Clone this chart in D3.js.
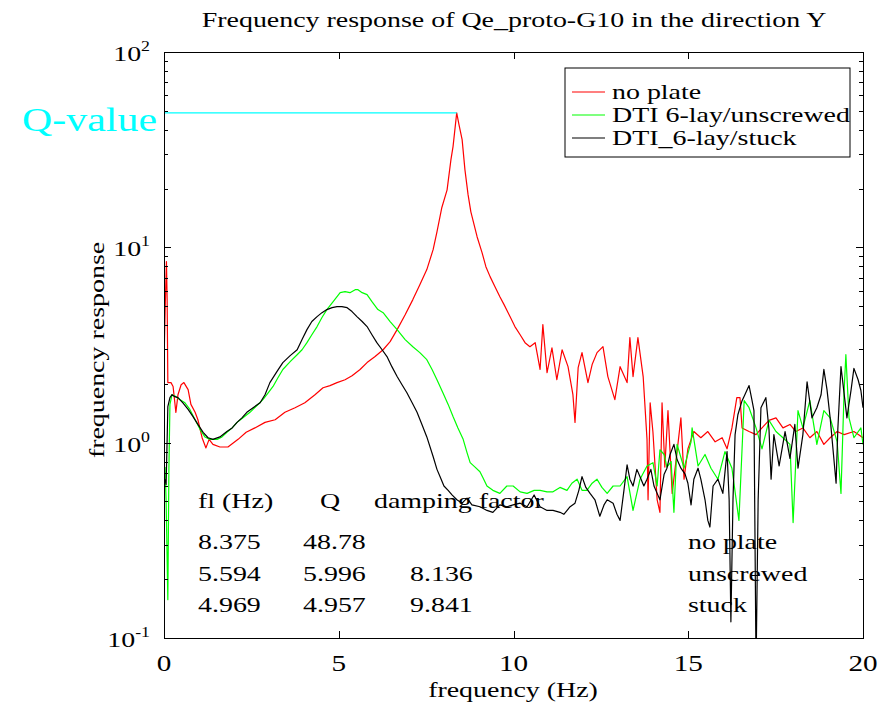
<!DOCTYPE html>
<html>
<head>
    <title>Frequency response</title>
    <script src="https://d3js.org/d3.v7.min.js"></script>
    <style>
        body { margin: 0; background: #fff; }
        text { font-family: "Liberation Serif", "Times New Roman", serif; }
        .axis path, .axis line { stroke: #000; shape-rendering: crispEdges; }
        .curve { fill: none; stroke-width: 1.2px; stroke-linejoin: round; }
    </style>
</head>
<body>
<script>
// [frequency (Hz), response]
var noPlate = [
    [0.01,3.10],[0.04,5.4],[0.07,8.45],[0.09,5.4],[0.11,2.03],[0.20,2.03],[0.26,1.94],[0.34,1.43],
    [0.40,1.76],[0.49,1.98],[0.57,2.03],[0.69,1.87],[0.77,1.57],[0.89,1.43],[0.97,1.31],[1.09,1.06],
    [1.20,0.94],[1.29,1.04],[1.40,0.98],[1.60,0.95],[1.83,0.95],[2.12,1.04],[2.35,1.13],[2.60,1.19],
    [2.89,1.27],[3.18,1.31],[3.46,1.43],[3.75,1.51],[4.03,1.60],[4.32,1.76],[4.55,1.91],[4.75,1.96],
    [4.95,2.03],[5.18,2.10],[5.38,2.20],[5.61,2.37],[5.81,2.57],[6.04,2.76],[6.27,2.99],[6.47,3.29],
    [6.67,3.79],[6.90,4.52],[7.12,5.40],[7.32,6.44],[7.52,7.69],[7.70,9.73],[7.81,12.0],[7.95,16.0],
    [8.10,19.7],[8.21,28.1],[8.27,32.8],[8.375,48.78],[8.44,42.5],[8.53,35.6],[8.61,25.0],[8.70,18.6],
    [8.78,15.2],[8.96,11.3],[9.10,9.40],[9.21,7.96],[9.33,7.08],[9.47,6.29],[9.61,5.59],[9.73,5.09],
    [9.90,4.42],[10.04,3.93],[10.19,3.57],[10.33,3.25],[10.47,3.10],[10.62,3.25],[10.76,2.37],[10.84,4.02],
    [10.96,2.28],[11.10,3.06],[11.24,2.10],[11.39,2.99],[11.56,2.45],[11.70,1.76],[11.76,1.27],[11.85,2.42],
    [11.96,2.89],[12.13,2.03],[12.25,2.51],[12.39,2.89],[12.56,3.10],[12.70,2.18],[12.90,1.66],[13.05,2.45],
    [13.25,2.03],[13.33,3.45],[13.42,2.18],[13.56,3.45],[13.71,2.18],[13.82,1.04],[13.85,0.51],[13.91,1.60],
    [13.99,1.13],[14.11,0.51],[14.19,0.44],[14.25,1.60],[14.33,0.75],[14.42,1.46],[14.54,0.55],[14.68,0.90],
    [14.79,1.34],[14.88,0.65],[14.99,0.93],[15.16,1.14],[15.36,1.06],[15.56,1.14],[15.77,1.01],[15.97,1.06],
    [16.11,0.93],[16.25,1.19],[16.39,1.70],[16.48,1.70],[16.54,1.19],[16.74,1.14],[16.94,1.10],[17.11,1.19],
    [17.31,1.30],[17.51,1.34],[17.71,1.19],[17.91,1.24],[18.08,1.14],[18.28,1.19],[18.48,1.06],[18.68,1.14],
    [18.88,0.98],[19.06,1.06],[19.26,1.14],[19.46,1.10],[19.74,1.14],[20.0,1.06]
];
var unscrewed = [
    [0.03,0.75],[0.06,0.51],[0.09,0.25],[0.11,0.157],[0.14,0.73],[0.17,1.57],[0.23,1.76],[0.34,1.72],
    [0.46,1.66],[0.60,1.60],[0.74,1.48],[0.89,1.31],[1.03,1.17],[1.17,1.07],[1.32,1.04],[1.52,1.04],
    [1.66,1.07],[1.80,1.13],[1.95,1.19],[2.09,1.27],[2.26,1.34],[2.46,1.43],[2.66,1.55],[2.83,1.66],
    [2.98,1.80],[3.12,1.94],[3.26,2.15],[3.40,2.37],[3.61,2.60],[3.81,2.82],[3.95,2.99],[4.09,3.25],
    [4.23,3.57],[4.38,3.93],[4.52,4.37],[4.66,4.80],[4.84,5.27],[5.04,5.86],[5.18,5.93],[5.32,5.86],
    [5.47,6.07],[5.55,6.07],[5.67,5.86],[5.81,5.73],[5.95,5.27],[6.12,4.80],[6.27,4.63],[6.47,4.17],
    [6.67,3.79],[6.90,3.37],[7.12,3.10],[7.32,2.89],[7.52,2.66],[7.67,2.37],[7.81,2.10],[7.98,1.80],
    [8.13,1.57],[8.27,1.36],[8.41,1.19],[8.56,1.04],[8.67,0.89],[8.76,0.79],[8.90,0.75],[9.04,0.71],
    [9.13,0.66],[9.24,0.60],[9.41,0.57],[9.61,0.55],[9.81,0.60],[9.99,0.60],[10.19,0.56],[10.39,0.55],
    [10.59,0.57],[10.76,0.57],[10.96,0.56],[11.13,0.56],[11.33,0.59],[11.53,0.57],[11.67,0.62],[11.82,0.65],
    [11.96,0.57],[12.10,0.57],[12.25,0.62],[12.39,0.65],[12.53,0.59],[12.68,0.55],[12.85,0.60],[13.05,0.60],
    [13.25,0.67],[13.42,0.45],[13.62,0.65],[13.82,0.76],[13.99,0.79],[14.11,0.60],[14.19,0.92],[14.31,0.87],
    [14.39,0.75],[14.51,0.80],[14.59,0.44],[14.68,0.98],[14.88,0.74],[15.08,1.01],[15.11,1.19],[15.28,0.76],
    [15.48,0.87],[15.65,0.74],[15.85,0.65],[16.05,0.90],[16.25,0.74],[16.45,0.40],[16.60,1.64],[16.74,1.51],
    [16.94,1.19],[17.11,0.93],[17.31,1.30],[17.51,1.14],[17.71,1.06],[17.91,0.98],[18.00,0.39],[18.14,1.46],
    [18.28,1.19],[18.48,1.64],[18.68,0.98],[18.88,1.46],[19.06,1.34],[19.26,1.01],[19.37,0.55],[19.46,1.85],
    [19.51,2.82],[19.60,1.34],[19.74,1.06],[19.94,1.19],[20.0,0.98]
];
var stuck = [
    [0.03,0.65],[0.06,0.61],[0.09,1.04],[0.11,1.53],[0.17,1.70],[0.23,1.76],[0.31,1.72],[0.40,1.70],
    [0.54,1.60],[0.69,1.48],[0.83,1.36],[0.97,1.24],[1.12,1.13],[1.26,1.06],[1.40,1.04],[1.60,1.07],
    [1.80,1.14],[1.95,1.19],[2.09,1.27],[2.23,1.34],[2.37,1.43],[2.55,1.51],[2.75,1.60],[2.89,1.76],
    [3.03,2.03],[3.23,2.31],[3.40,2.57],[3.61,2.79],[3.81,2.99],[3.95,3.37],[4.09,3.79],[4.23,4.17],
    [4.38,4.42],[4.52,4.63],[4.66,4.80],[4.81,4.91],[4.95,4.97],[5.09,4.97],[5.24,4.91],[5.38,4.69],
    [5.52,4.42],[5.67,4.17],[5.81,3.93],[5.95,3.57],[6.09,3.25],[6.24,2.99],[6.38,2.76],[6.52,2.45],
    [6.67,2.18],[6.81,1.98],[6.95,1.80],[7.10,1.60],[7.24,1.43],[7.38,1.24],[7.52,1.07],[7.70,0.85],
    [7.81,0.73],[7.90,0.67],[8.01,0.60],[8.13,0.57],[8.24,0.54],[8.38,0.51],[8.53,0.49],[8.67,0.52],
    [8.81,0.48],[9.04,0.47],[9.24,0.45],[9.41,0.44],[9.61,0.48],[9.81,0.47],[9.99,0.48],[10.19,0.49],
    [10.39,0.47],[10.59,0.54],[10.76,0.47],[10.96,0.45],[11.13,0.45],[11.33,0.44],[11.44,0.43],[11.62,0.47],
    [11.76,0.49],[11.87,0.57],[11.96,0.67],[12.07,0.59],[12.19,0.55],[12.33,0.51],[12.47,0.42],[12.59,0.48],
    [12.68,0.51],[12.85,0.49],[12.96,0.43],[13.05,0.40],[13.16,0.57],[13.25,0.77],[13.33,0.65],[13.42,0.60],
    [13.53,0.73],[13.62,0.67],[13.73,0.60],[13.82,0.65],[13.93,0.73],[14.02,0.60],[14.11,0.55],[14.19,0.51],
    [14.31,0.69],[14.39,0.74],[14.48,0.87],[14.59,0.98],[14.68,0.82],[14.79,0.74],[14.91,0.69],[14.99,0.62],
    [15.08,0.48],[15.16,0.65],[15.28,0.74],[15.36,0.65],[15.48,0.51],[15.56,0.40],[15.62,0.37],[15.71,0.60],
    [15.85,0.65],[15.99,0.55],[16.11,0.90],[16.17,0.51],[16.22,0.121],[16.28,0.51],[16.34,1.10],[16.42,1.39],
    [16.54,1.64],[16.62,1.76],[16.74,1.96],[16.82,1.66],[16.88,1.46],[16.94,0.07],[17.00,0.51],[17.08,1.51],
    [17.22,1.70],[17.31,1.17],[17.37,0.65],[17.45,1.10],[17.60,0.76],[17.77,1.14],[17.91,0.83],[18.05,1.24],
    [18.14,0.74],[18.28,1.10],[18.40,2.05],[18.54,1.34],[18.68,1.51],[18.80,1.76],[18.88,2.37],[18.97,1.87],
    [19.06,1.34],[19.23,0.62],[19.28,1.17],[19.37,2.45],[19.54,1.34],[19.66,1.87],[19.74,2.40],[19.86,2.10],
    [19.94,1.85],[20.0,1.51]
];

var seriesNames = ["no plate", "DTI 6-lay/unscrewed", "DTI_6-lay/stuck"];
var seriesColors = ["#ff0000", "#00ff00", "#000000"];

var xTicks = [0, 5, 10, 15, 20];
var yDecades = [0.1, 1, 10, 100];
var yExponents = ["-1", "0", "1", "2"];

var tableHead = ["fl (Hz)", "Q", "damping factor"];
var tableF = ["8.375", "5.594", "4.969"];
var tableQ = ["48.78", "5.996", "4.957"];
var tableDamp = ["", "8.136", "9.841"];
var tableCase = ["no plate", "unscrewed", "stuck"];

var peakF = 8.375, peakQ = 48.78;

// layout
var W = 887, H = 709;
var plot = {left: 164, right: 863, top: 52, bottom: 638};
var SX = 1.27; // glyphs in the original are drawn wide

var svg = d3.select("body").append("svg")
    .attr("width", W)
    .attr("height", H);

var x = d3.scaleLinear().domain([0, 20]).range([plot.left, plot.right]);
var y = d3.scaleLog().domain([0.1, 100]).range([plot.bottom, plot.top]);

function label(s, px, py, size, anchor, color, rot) {
    var t = svg.append("text")
        .attr("transform", "translate(" + px + "," + py + ")" + (rot ? " rotate(" + rot + ")" : "") + " scale(" + SX + ",1)")
        .attr("text-anchor", anchor || "start")
        .style("font-size", size + "px")
        .attr("fill", color || "#000");
    if (s !== null) t.text(s);
    return t;
}

// title
label("Frequency response of Qe_proto-G10  in the direction Y", 514, 27, 22, "middle");

// clip
svg.append("clipPath").attr("id", "clip")
    .append("rect")
    .attr("x", plot.left).attr("y", plot.top)
    .attr("width", plot.right - plot.left).attr("height", plot.bottom - plot.top);

var line = d3.line()
    .x(function(d) { return x(d[0]); })
    .y(function(d) { return y(Math.max(d[1], 0.05)); });

var curves = svg.append("g").attr("clip-path", "url(#clip)");
[noPlate, unscrewed, stuck].forEach(function(s, i) {
    curves.append("path")
        .datum(s)
        .attr("class", "curve")
        .attr("stroke", seriesColors[i])
        .attr("d", line);
});

// Q-value marker
svg.append("line")
    .attr("x1", x(0)).attr("x2", x(peakF))
    .attr("y1", y(peakQ)).attr("y2", y(peakQ))
    .attr("stroke", "#00ffff").attr("stroke-width", 1.2);
label("Q-value", 157, 131, 33, "end", "#00ffff");

// axes with inward ticks (all four sides)
var minors = [];
yDecades.slice(0, 3).forEach(function(d) {
    for (var k = 2; k <= 9; k++) minors.push(d * k);
});

svg.append("g").attr("class", "axis")
    .attr("transform", "translate(0," + plot.bottom + ")")
    .call(d3.axisBottom(x).tickValues(xTicks).tickSize(-7).tickSizeOuter(0).tickFormat(""));
svg.append("g").attr("class", "axis")
    .attr("transform", "translate(0," + plot.top + ")")
    .call(d3.axisTop(x).tickValues(xTicks).tickSize(-7).tickSizeOuter(0).tickFormat(""));
svg.append("g").attr("class", "axis")
    .attr("transform", "translate(" + plot.left + ",0)")
    .call(d3.axisLeft(y).tickValues(yDecades).tickSize(-7).tickSizeOuter(0).tickFormat(""));
svg.append("g").attr("class", "axis")
    .attr("transform", "translate(" + plot.left + ",0)")
    .call(d3.axisLeft(y).tickValues(minors).tickSize(-4).tickSizeOuter(0).tickFormat(""));
svg.append("g").attr("class", "axis")
    .attr("transform", "translate(" + plot.right + ",0)")
    .call(d3.axisRight(y).tickValues(yDecades).tickSize(-7).tickSizeOuter(0).tickFormat(""));
svg.append("g").attr("class", "axis")
    .attr("transform", "translate(" + plot.right + ",0)")
    .call(d3.axisRight(y).tickValues(minors).tickSize(-4).tickSizeOuter(0).tickFormat(""));

// tick labels
xTicks.forEach(function(t) {
    label(String(t), x(t), 671, 23, "middle");
});
yDecades.forEach(function(d, i) {
    var t = label(null, 150, y(d) + 9, 22, "end");
    t.append("tspan").text("10");
    t.append("tspan").attr("dy", -10).style("font-size", "14px").text(yExponents[i]);
});

// axis titles
label("frequency (Hz)", 513, 697, 22, "middle");
label("frequency response", 104, 350, 22, "middle", "#000", -90);

// legend
var lg = {x: 565, y: 68, w: 285, h: 89};
svg.append("rect")
    .attr("x", lg.x).attr("y", lg.y).attr("width", lg.w).attr("height", lg.h)
    .attr("fill", "#fff").attr("stroke", "#000").attr("stroke-width", 1);
seriesNames.forEach(function(n, i) {
    var ly = 92 + i * 23;
    svg.append("line")
        .attr("x1", 572).attr("x2", 605).attr("y1", ly).attr("y2", ly)
        .attr("stroke", seriesColors[i]).attr("stroke-width", 1.2);
    label(n, 612, ly + 7, 22, "start");
});

// damping table
var colX = [198, 303, 410];
var rowY = [549, 581, 612];
label(tableHead[0], 198, 508, 22);
label(tableHead[1], 320, 508, 22);
label(tableHead[2], 374, 508, 22);
rowY.forEach(function(ry, i) {
    label(tableF[i], colX[0], ry, 22);
    label(tableQ[i], colX[1], ry, 22);
    if (tableDamp[i]) label(tableDamp[i], colX[2], ry, 22);
    label(tableCase[i], 688, ry, 22);
});

// frame
svg.append("rect")
    .attr("x", plot.left).attr("y", plot.top)
    .attr("width", plot.right - plot.left).attr("height", plot.bottom - plot.top)
    .attr("fill", "none").attr("stroke", "#000").attr("stroke-width", 1)
    .attr("shape-rendering", "crispEdges");
</script>
</body>
</html>
